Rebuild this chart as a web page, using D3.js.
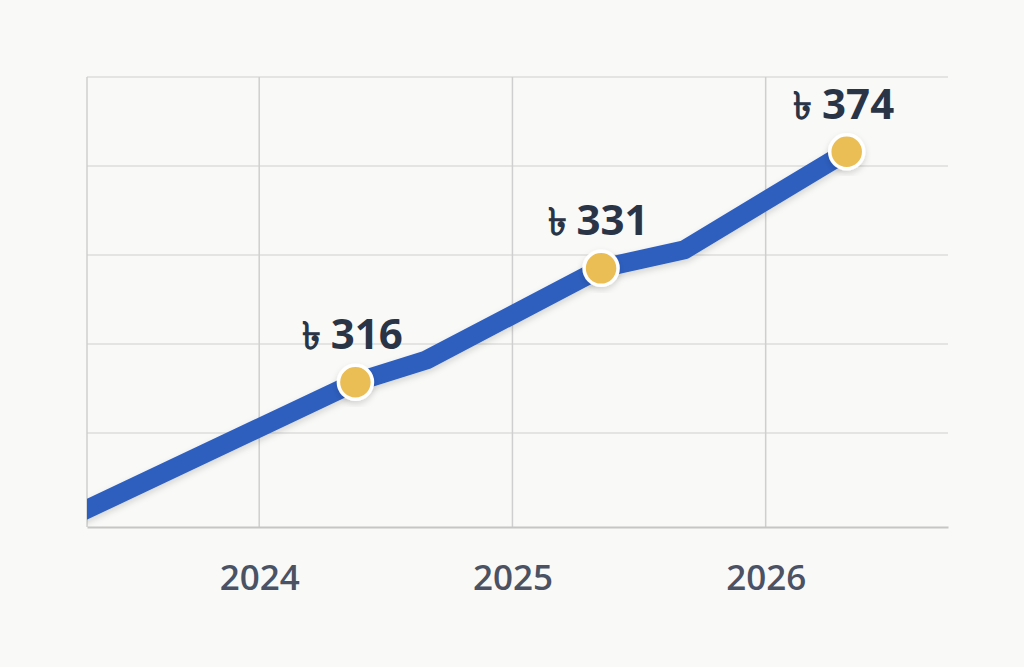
<!DOCTYPE html>
<html>
<head>
<meta charset="utf-8">
<script src="https://cdn.jsdelivr.net/npm/d3@7"></script>
<style>
  html, body { margin: 0; padding: 0; background: #f9f9f7; }
  svg { display: block; }
</style>
</head>
<body>
<svg id="chart"></svg>
<script>
const width = 1024;
const height = 667;
const margins = { top: 77, right: 76, bottom: 140, left: 87 };

// data
const years = [2024, 2025, 2026];
const gridRows = [0, 1, 2, 3, 4, 5];
const lineX = [2023.28, 2024.38, 2024.66, 2025.35, 2025.68, 2026.32];
const lineY = [0.09, 1.57, 1.82, 2.85, 3.06, 4.16];
const markerX = [2024.38, 2025.35, 2026.32];
const markerY = [1.57, 2.85, 4.16];
const values = [316, 331, 374];
const currency = "৳";

const x = d3.scaleLinear()
  .domain([2023.32, 2026.72])
  .range([margins.left, width - margins.right]);

const y = d3.scaleLinear()
  .domain([0, 5])
  .range([height - margins.bottom - 5, margins.top]);

const svg = d3.select("#chart").attr("width", width).attr("height", height);

const defs = svg.append("defs");
defs.append("clipPath").attr("id", "plotClip")
  .append("rect")
  .attr("x", margins.left)
  .attr("y", 0)
  .attr("width", width - margins.left - margins.right)
  .attr("height", height - margins.bottom);

const shadow = defs.append("filter").attr("id", "shadow")
  .attr("x", "-20%").attr("y", "-20%").attr("width", "140%").attr("height", "140%");
shadow.append("feDropShadow")
  .attr("dx", 0).attr("dy", 3).attr("stdDeviation", 3)
  .attr("flood-color", "#000").attr("flood-opacity", 0.15);

// horizontal grid
svg.append("g")
  .selectAll("line")
  .data(gridRows.filter((d) => d > 0))
  .join("line")
  .attr("x1", margins.left)
  .attr("x2", width - margins.right)
  .attr("y1", (d) => y(d))
  .attr("y2", (d) => y(d))
  .attr("stroke", "#dcdcdc")
  .attr("stroke-width", 1.5);

// vertical grid (left edge + years)
svg.append("g")
  .selectAll("line")
  .data([x.domain()[0], ...years])
  .join("line")
  .attr("x1", (d) => x(d))
  .attr("x2", (d) => x(d))
  .attr("y1", margins.top)
  .attr("y2", height - margins.bottom)
  .attr("stroke", "#cfcfcf")
  .attr("stroke-width", 1.5);

// x axis
const xAxis = svg.append("g")
  .attr("transform", `translate(0, ${height - margins.bottom})`)
  .call(d3.axisBottom(x).tickValues(years).tickFormat(d3.format("d")).tickSize(0).tickPadding(38));

xAxis.select(".domain").attr("stroke", "#c6c6c6").attr("stroke-width", 2);
xAxis.selectAll("text")
  .attr("font-family", "'Open Sans', sans-serif")
  .attr("font-size", "35px")
  .attr("font-weight", 600)
  .attr("fill", "#4a5264");

// line
const line = d3.line()
  .x((d, i) => x(lineX[i]))
  .y((d, i) => y(d));

svg.append("path")
  .datum(lineY)
  .attr("clip-path", "url(#plotClip)")
  .attr("d", line)
  .attr("fill", "none")
  .attr("stroke", "#2f5fbf")
  .attr("stroke-width", 19)
  .attr("stroke-linejoin", "round")
  .attr("filter", "url(#shadow)");

// markers
svg.append("g")
  .selectAll("circle")
  .data(markerY)
  .join("circle")
  .attr("cx", (d, i) => x(markerX[i]))
  .attr("cy", (d) => y(d))
  .attr("r", 17)
  .attr("fill", "#ebbd55")
  .attr("stroke", "#ffffff")
  .attr("stroke-width", 3.5)
  .attr("filter", "url(#shadow)");

// value labels
const labels = svg.append("g")
  .selectAll("text")
  .data(values)
  .join("text")
  .attr("x", (d, i) => x(markerX[i]) - 3)
  .attr("y", (d, i) => y(markerY[i]) - 33)
  .attr("text-anchor", "middle")
  .attr("font-family", "'Open Sans', sans-serif")
  .attr("font-weight", 700)
  .attr("fill", "#2a3447");

labels.append("tspan")
  .attr("font-size", "38px")
  .attr("font-weight", 800)
  .text(currency + " ");

labels.append("tspan")
  .attr("font-size", "42px")
  .text((d) => d);
</script>
</body>
</html>
